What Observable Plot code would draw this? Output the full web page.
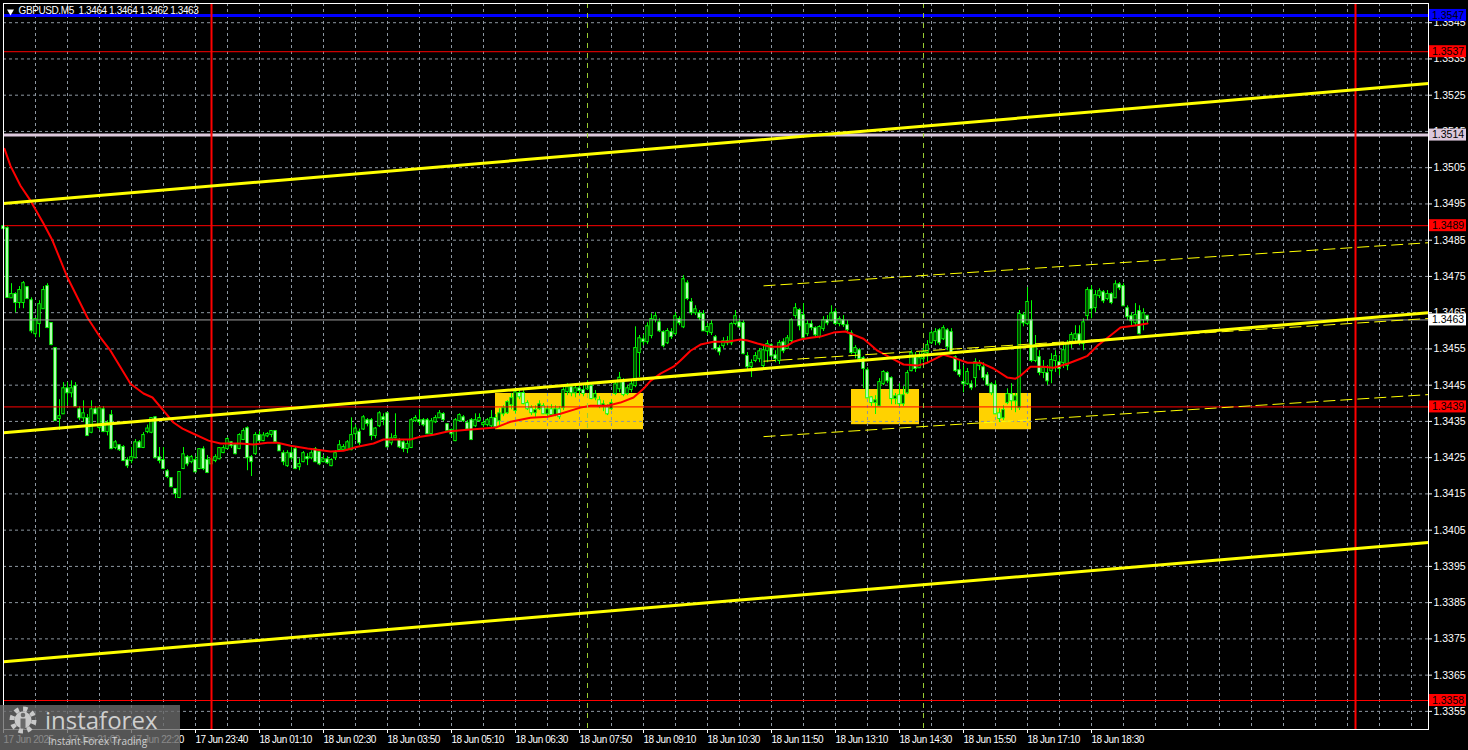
<!DOCTYPE html>
<html><head><meta charset="utf-8">
<script src="https://cdn.jsdelivr.net/npm/d3@7"></script>
<script src="https://cdn.jsdelivr.net/npm/@observablehq/plot@0.6"></script>
<style>html,body{margin:0;padding:0;background:#000;overflow:hidden}</style>
</head><body><div id="chart"></div>
<script>
// ---- candle data (GBPUSD M5), bar index 0..286 ----
const open = [
1.34887,1.34882,1.34691,1.34700,1.34678,1.34678,1.34719,1.34683,1.34592,1.34620,
1.34661,1.34722,1.34620,1.34551,1.34358,1.34371,1.34440,1.34429,1.34446,1.34382,
1.34360,1.34358,1.34320,1.34382,1.34333,1.34382,1.34322,1.34366,1.34278,1.34283,
1.34278,1.34242,1.34242,1.34250,1.34291,1.34278,1.34322,1.34320,1.34360,1.34250,
1.34242,1.34211,1.34192,1.34162,1.34140,1.34220,1.34250,1.34239,1.34242,1.34220,
1.34272,1.34242,1.34233,1.34242,1.34247,1.34264,1.34275,1.34291,1.34283,1.34275,
1.34300,1.34330,1.34250,1.34261,1.34311,1.34297,1.34310,1.34314,1.34322,1.34283,
1.34261,1.34228,1.34261,1.34272,1.34225,1.34239,1.34250,1.34250,1.34272,1.34264,
1.34239,1.34244,1.34228,1.34250,1.34272,1.34272,1.34272,1.34272,1.34316,1.34320,
1.34329,1.34352,1.34352,1.34311,1.34338,1.34360,1.34371,1.34291,1.34305,1.34297,
1.34291,1.34275,1.34278,1.34352,1.34352,1.34352,1.34352,1.34316,1.34349,1.34360,
1.34369,1.34341,1.34325,1.34297,1.34352,1.34360,1.34344,1.34352,1.34338,1.34352,
1.34341,1.34341,1.34338,1.34358,1.34352,1.34371,1.34374,1.34396,1.34380,1.34427,
1.34427,1.34399,1.34385,1.34374,1.34385,1.34391,1.34371,1.34382,1.34369,1.34382,
1.34388,1.34432,1.34443,1.34429,1.34440,1.34435,1.34440,1.34446,1.34415,1.34407,
1.34391,1.34388,1.34385,1.34427,1.34440,1.34457,1.34427,1.34438,1.34449,1.34540,
1.34575,1.34570,1.34587,1.34631,1.34622,1.34595,1.34567,1.34595,1.34592,1.34631,
1.34611,1.34730,1.34678,1.34650,1.34647,1.34645,1.34598,1.34595,1.34581,1.34551,
1.34559,1.34570,1.34567,1.34620,1.34622,1.34620,1.34529,1.34501,1.34518,1.34523,
1.34504,1.34545,1.34559,1.34531,1.34518,1.34567,1.34551,1.34573,1.34642,1.34656,
1.34642,1.34592,1.34617,1.34606,1.34584,1.34606,1.34628,1.34628,1.34650,1.34620,
1.34628,1.34614,1.34592,1.34540,1.34545,1.34523,1.34490,1.34415,1.34402,1.34393,
1.34454,1.34482,1.34468,1.34413,1.34421,1.34399,1.34429,1.34490,1.34526,1.34498,
1.34523,1.34540,1.34567,1.34573,1.34600,1.34578,1.34600,1.34595,1.34526,1.34490,
1.34457,1.34454,1.34451,1.34471,1.34504,1.34498,1.34476,1.34451,1.34449,1.34371,
1.34360,1.34402,1.34424,1.34407,1.34388,1.34642,1.34620,1.34628,1.34518,1.34526,
1.34485,1.34482,1.34490,1.34518,1.34512,1.34512,1.34504,1.34565,1.34578,1.34589,
1.34565,1.34642,1.34711,1.34664,1.34697,1.34705,1.34689,1.34700,1.34691,1.34727,
1.34722,1.34661,1.34639,1.34622,1.34653,1.34631,1.34640];
const high = [
1.34912,1.34887,1.34730,1.34705,1.34722,1.34736,1.34722,1.34691,1.34633,1.34683,
1.34722,1.34730,1.34622,1.34551,1.34410,1.34457,1.34457,1.34462,1.34457,1.34391,
1.34407,1.34369,1.34407,1.34391,1.34391,1.34391,1.34352,1.34380,1.34297,1.34286,
1.34283,1.34250,1.34278,1.34300,1.34297,1.34319,1.34340,1.34360,1.34363,1.34278,
1.34278,1.34217,1.34195,1.34164,1.34211,1.34278,1.34256,1.34256,1.34253,1.34275,
1.34280,1.34256,1.34250,1.34258,1.34278,1.34283,1.34305,1.34294,1.34289,1.34316,
1.34330,1.34335,1.34256,1.34319,1.34322,1.34319,1.34319,1.34325,1.34325,1.34286,
1.34269,1.34269,1.34278,1.34278,1.34247,1.34267,1.34261,1.34269,1.34278,1.34272,
1.34256,1.34253,1.34247,1.34269,1.34297,1.34286,1.34297,1.34360,1.34340,1.34329,
1.34366,1.34358,1.34358,1.34333,1.34377,1.34371,1.34374,1.34316,1.34371,1.34302,
1.34297,1.34297,1.34358,1.34366,1.34382,1.34358,1.34358,1.34358,1.34366,1.34380,
1.34374,1.34344,1.34329,1.34358,1.34371,1.34366,1.34352,1.34358,1.34371,1.34371,
1.34352,1.34358,1.34380,1.34369,1.34385,1.34393,1.34407,1.34427,1.34440,1.34435,
1.34435,1.34407,1.34393,1.34393,1.34407,1.34399,1.34391,1.34396,1.34393,1.34391,
1.34443,1.34454,1.34449,1.34449,1.34451,1.34449,1.34462,1.34454,1.34435,1.34418,
1.34407,1.34396,1.34410,1.34462,1.34485,1.34468,1.34449,1.34460,1.34611,1.34587,
1.34589,1.34622,1.34647,1.34650,1.34633,1.34600,1.34606,1.34606,1.34650,1.34639,
1.34752,1.34738,1.34689,1.34669,1.34656,1.34656,1.34620,1.34628,1.34587,1.34559,
1.34581,1.34584,1.34622,1.34656,1.34633,1.34628,1.34540,1.34520,1.34540,1.34551,
1.34559,1.34573,1.34564,1.34545,1.34573,1.34578,1.34587,1.34633,1.34675,1.34661,
1.34675,1.34628,1.34628,1.34611,1.34614,1.34639,1.34642,1.34669,1.34661,1.34639,
1.34642,1.34628,1.34600,1.34559,1.34551,1.34529,1.34498,1.34418,1.34421,1.34468,
1.34490,1.34487,1.34473,1.34427,1.34454,1.34446,1.34490,1.34545,1.34540,1.34540,
1.34559,1.34573,1.34600,1.34606,1.34606,1.34614,1.34606,1.34606,1.34531,1.34518,
1.34504,1.34496,1.34462,1.34523,1.34518,1.34512,1.34485,1.34457,1.34462,1.34385,
1.34393,1.34440,1.34454,1.34427,1.34656,1.34650,1.34719,1.34683,1.34587,1.34545,
1.34518,1.34504,1.34537,1.34545,1.34531,1.34559,1.34573,1.34595,1.34614,1.34614,
1.34633,1.34719,1.34724,1.34711,1.34716,1.34711,1.34711,1.34705,1.34738,1.34733,
1.34730,1.34669,1.34650,1.34675,1.34669,1.34661,1.34640];
const low = [
1.34871,1.34692,1.34689,1.34650,1.34661,1.34661,1.34686,1.34592,1.34581,1.34581,
1.34661,1.34606,1.34559,1.34350,1.34325,1.34369,1.34393,1.34415,1.34388,1.34352,
1.34347,1.34310,1.34316,1.34369,1.34325,1.34319,1.34310,1.34272,1.34272,1.34267,
1.34239,1.34220,1.34233,1.34247,1.34275,1.34275,1.34316,1.34316,1.34247,1.34233,
1.34217,1.34192,1.34167,1.34137,1.34137,1.34217,1.34225,1.34233,1.34209,1.34217,
1.34214,1.34206,1.34228,1.34236,1.34244,1.34261,1.34272,1.34275,1.34258,1.34272,
1.34297,1.34214,1.34198,1.34256,1.34294,1.34294,1.34305,1.34305,1.34291,1.34267,
1.34228,1.34223,1.34242,1.34217,1.34214,1.34236,1.34228,1.34244,1.34236,1.34228,
1.34236,1.34231,1.34225,1.34242,1.34269,1.34267,1.34269,1.34269,1.34297,1.34283,
1.34325,1.34335,1.34297,1.34302,1.34333,1.34338,1.34278,1.34283,1.34302,1.34275,
1.34264,1.34261,1.34275,1.34347,1.34338,1.34335,1.34314,1.34311,1.34344,1.34358,
1.34349,1.34319,1.34305,1.34294,1.34349,1.34347,1.34325,1.34297,1.34333,1.34347,
1.34333,1.34335,1.34333,1.34330,1.34335,1.34363,1.34369,1.34382,1.34371,1.34410,
1.34396,1.34380,1.34366,1.34360,1.34380,1.34369,1.34360,1.34363,1.34363,1.34355,
1.34380,1.34421,1.34418,1.34415,1.34421,1.34418,1.34435,1.34410,1.34407,1.34385,
1.34377,1.34366,1.34380,1.34421,1.34429,1.34418,1.34421,1.34429,1.34443,1.34471,
1.34559,1.34562,1.34578,1.34622,1.34595,1.34553,1.34562,1.34576,1.34587,1.34614,
1.34606,1.34683,1.34642,1.34642,1.34628,1.34598,1.34587,1.34587,1.34545,1.34531,
1.34551,1.34559,1.34559,1.34614,1.34606,1.34534,1.34493,1.34471,1.34512,1.34512,
1.34496,1.34512,1.34526,1.34512,1.34507,1.34537,1.34548,1.34565,1.34633,1.34600,
1.34578,1.34584,1.34600,1.34581,1.34578,1.34598,1.34614,1.34625,1.34614,1.34611,
1.34609,1.34592,1.34534,1.34523,1.34512,1.34440,1.34413,1.34391,1.34369,1.34391,
1.34449,1.34454,1.34396,1.34396,1.34391,1.34391,1.34424,1.34487,1.34485,1.34496,
1.34512,1.34512,1.34562,1.34559,1.34559,1.34573,1.34545,1.34537,1.34485,1.34471,
1.34429,1.34449,1.34435,1.34443,1.34490,1.34462,1.34446,1.34421,1.34369,1.34347,
1.34352,1.34396,1.34380,1.34374,1.34380,1.34611,1.34614,1.34512,1.34512,1.34476,
1.34468,1.34449,1.34454,1.34485,1.34476,1.34496,1.34490,1.34551,1.34567,1.34559,
1.34545,1.34628,1.34633,1.34650,1.34689,1.34675,1.34683,1.34672,1.34689,1.34711,
1.34667,1.34628,1.34611,1.34614,1.34589,1.34600,1.34620];
const close = [
1.34882,1.34692,1.34700,1.34678,1.34711,1.34730,1.34689,1.34600,1.34631,1.34672,
1.34711,1.34609,1.34562,1.34352,1.34363,1.34440,1.34429,1.34440,1.34391,1.34360,
1.34371,1.34311,1.34382,1.34371,1.34385,1.34322,1.34344,1.34275,1.34291,1.34272,
1.34242,1.34228,1.34250,1.34291,1.34278,1.34311,1.34329,1.34358,1.34250,1.34242,
1.34220,1.34198,1.34170,1.34151,1.34209,1.34258,1.34233,1.34250,1.34211,1.34272,
1.34220,1.34209,1.34244,1.34250,1.34275,1.34275,1.34300,1.34283,1.34261,1.34311,
1.34322,1.34250,1.34239,1.34311,1.34297,1.34310,1.34314,1.34322,1.34294,1.34269,
1.34239,1.34261,1.34250,1.34220,1.34231,1.34261,1.34247,1.34261,1.34239,1.34233,
1.34244,1.34236,1.34242,1.34261,1.34283,1.34278,1.34291,1.34311,1.34329,1.34291,
1.34360,1.34344,1.34311,1.34329,1.34371,1.34355,1.34280,1.34302,1.34308,1.34280,
1.34275,1.34286,1.34352,1.34358,1.34349,1.34341,1.34316,1.34349,1.34358,1.34371,
1.34355,1.34325,1.34316,1.34352,1.34366,1.34352,1.34329,1.34300,1.34352,1.34358,
1.34344,1.34352,1.34358,1.34335,1.34371,1.34385,1.34402,1.34413,1.34429,1.34418,
1.34399,1.34385,1.34374,1.34380,1.34396,1.34371,1.34382,1.34369,1.34382,1.34363,
1.34435,1.34443,1.34429,1.34440,1.34435,1.34427,1.34451,1.34413,1.34424,1.34391,
1.34396,1.34371,1.34399,1.34451,1.34469,1.34424,1.34440,1.34451,1.34551,1.34578,
1.34570,1.34611,1.34631,1.34639,1.34600,1.34559,1.34598,1.34584,1.34639,1.34622,
1.34741,1.34689,1.34650,1.34658,1.34636,1.34600,1.34609,1.34617,1.34551,1.34542,
1.34570,1.34567,1.34617,1.34639,1.34611,1.34537,1.34501,1.34510,1.34529,1.34542,
1.34545,1.34562,1.34531,1.34523,1.34565,1.34545,1.34578,1.34628,1.34661,1.34614,
1.34581,1.34617,1.34609,1.34589,1.34609,1.34628,1.34622,1.34647,1.34620,1.34631,
1.34617,1.34603,1.34540,1.34551,1.34523,1.34496,1.34415,1.34402,1.34407,1.34457,
1.34485,1.34462,1.34413,1.34418,1.34399,1.34421,1.34482,1.34537,1.34496,1.34523,
1.34540,1.34559,1.34592,1.34595,1.34567,1.34606,1.34556,1.34540,1.34490,1.34479,
1.34454,1.34485,1.34443,1.34512,1.34509,1.34471,1.34451,1.34429,1.34371,1.34358,
1.34380,1.34424,1.34407,1.34418,1.34645,1.34622,1.34678,1.34518,1.34559,1.34485,
1.34496,1.34462,1.34518,1.34529,1.34496,1.34545,1.34562,1.34587,1.34589,1.34567,
1.34622,1.34711,1.34661,1.34697,1.34708,1.34683,1.34700,1.34678,1.34727,1.34719,
1.34669,1.34639,1.34628,1.34642,1.34592,1.34647,1.34630];

// ---- moving average (red line), read at sample bars ----
const maIndex = [0.25,1.75,4.25,6.75,10,12.25,16,21,24.25,26.75,31.75,35,37.25,40,42.5,44.75,47.5,51.25,54.25,59.25,62.5,66,68.5,71.75,76,81.75,85,88.5,92.5,95,99.25,101.75,104.25,107.5,111,116,119.25,123,126.75,131.75,136,139.25,144.25,146.75,151,154.25,157.5,160,161.75,164.25,167.5,169.25,171.75,174.25,177.5,181,184.25,186,188.5,191.75,194.25,196,197.5,199.25,201.75,204.25,207.5,210.5,212.5,215,218.5,221.75,225,228.5,231,235,237.5,241,244.25,247.5,251,253,254.25,256.75,260,262.5,266,269.25,271,273.5,276.75,279.25,282.5,286];
const maValue = [1.35102,1.35055,1.35000,1.34959,1.34896,1.34849,1.34747,1.34636,1.34581,1.34545,1.34454,1.34427,1.34416,1.34380,1.34347,1.34330,1.34316,1.34297,1.34289,1.34289,1.34286,1.34291,1.34291,1.34283,1.34275,1.34267,1.34269,1.34280,1.34289,1.34300,1.34300,1.34300,1.34308,1.34313,1.34322,1.34327,1.34330,1.34333,1.34349,1.34360,1.34363,1.34371,1.34388,1.34393,1.34393,1.34402,1.34416,1.34440,1.34462,1.34482,1.34501,1.34518,1.34545,1.34562,1.34570,1.34570,1.34576,1.34573,1.34565,1.34556,1.34556,1.34559,1.34570,1.34576,1.34581,1.34584,1.34595,1.34598,1.34589,1.34578,1.34545,1.34526,1.34507,1.34504,1.34512,1.34534,1.34526,1.34512,1.34512,1.34496,1.34471,1.34468,1.34476,1.34501,1.34501,1.34498,1.34509,1.34523,1.34531,1.34559,1.34587,1.34609,1.34614,1.34620];

// ---- horizontal levels ----
const levelPrice = [1.3547, 1.3537, 1.3514, 1.3489, 1.3463, 1.3439, 1.3358];
const levelColor = ["#0000ff", "#ff0000", "#dcc8dc", "#ff0000", "#a0a0a0", "#ff0000", "#ff0000"];
const levelWidth = [3, 1, 3, 1, 1, 1, 1];
const levelBox   = ["#0000ff", "#ff0000", "#dcc8dc", "#ff0000", "#ffffff", "#ff0000", "#ff0000"];

// ---- trend / channel lines (bar index, price) ----
const trendX1 = [0, 0, 0, 190, 190, 190];
const trendY1 = [1.34951, 1.34319, 1.33687, 1.34724, 1.34516, 1.34308];
const trendX2 = [356.25, 356.25, 356.25, 356.25, 356.25, 356.25];
const trendY2 = [1.35282, 1.34650, 1.34016, 1.34843, 1.34634, 1.34424];
const trendDashed = [false, false, false, true, true, true];

// ---- highlighted zones ----
const zoneStart = [123, 212, 244];
const zoneEnd   = [160, 229, 257];
const zoneHigh  = [1.34427, 1.34438, 1.34427];
const zoneLow   = [1.34327, 1.34341, 1.34327];

// ---- vertical markers ----
const dayLines = [52, 338];
const sessionLines = [146, 230];

// ---- axes ----
const priceTicks = [1.3355,1.3365,1.3375,1.3385,1.3395,1.3405,1.3415,1.3425,1.3435,1.3445,1.3455,1.3465,1.3475,1.3485,1.3495,1.3505,1.3515,1.3525,1.3535,1.3545];
const timeIdx = [0,16,32,48,64,80,96,112,128,144,160,176,192,208,224,240,256,272];
const timeLabels = ["17 Jun 2025","17 Jun 21:00","17 Jun 22:20","17 Jun 23:40","18 Jun 01:10","18 Jun 02:30","18 Jun 03:50","18 Jun 05:10","18 Jun 06:30","18 Jun 07:50","18 Jun 09:10","18 Jun 10:30","18 Jun 11:50","18 Jun 13:10","18 Jun 14:30","18 Jun 15:50","18 Jun 17:10","18 Jun 18:30"];
const gridIdx = [8,16,24,32,40,48,56,64,72,80,88,96,104,112,120,128,136,144,152,160,168,176,184,192,200,208,216,224,232,240,248,256,264,272,280,288,296,304,312,320,328,336,344,352];
const header = "GBPUSD.M5\u00a0\u00a01.3464 1.3464 1.3462 1.3463";

// ---- build tables ----
const bars = close.map((c, i) => ({i, o: open[i], h: high[i], l: low[i], c}));
const bull = bars.filter(d => d.c >= d.o);
const bear = bars.filter(d => d.c < d.o);
const ma = maIndex.map((i, k) => ({i, v: maValue[k]}));
const trends = trendX1.map((x1, k) => ({x1, y1: trendY1[k], x2: trendX2[k], y2: trendY2[k], dashed: trendDashed[k]}));
const zones = zoneStart.map((s, k) => ({x1: s, x2: zoneEnd[k], y1: zoneLow[k], y2: zoneHigh[k]}));
const labelMap = new Map(timeIdx.map((t, k) => [t, timeLabels[k]]));
const gridColor = "#8d97a1";

const chart = Plot.plot({
  width: 1468, height: 750,
  marginTop: 3, marginLeft: 3, marginRight: 40, marginBottom: 21,
  x: {domain: [0, 356.25], label: null},
  y: {domain: [1.3350, 1.35503], label: null},
  style: {background: "#000", color: "#fff", fontFamily: "'Liberation Sans', Arial, sans-serif", fontSize: "11px", overflow: "visible"},
  marks: [
    Plot.rect(zones, {x1: "x1", x2: "x2", y1: "y1", y2: "y2", fill: "#ffd200"}),
    Plot.ruleX(gridIdx, {stroke: gridColor, strokeDasharray: "3,3"}),
    Plot.ruleY(priceTicks, {stroke: gridColor, strokeDasharray: "3,3"}),
    Plot.ruleX(bars, {x: "i", y1: "l", y2: "h", stroke: "#00ff00"}),
    Plot.rect(bull, {x1: d => d.i - 0.3, x2: d => d.i + 0.3, y1: "o", y2: "c", fill: "#000", stroke: "#00ff00", insetTop: -0.5, insetBottom: -0.5}),
    Plot.rect(bear, {x1: d => d.i - 0.3, x2: d => d.i + 0.3, y1: "o", y2: "c", fill: "#fff", stroke: "#00ff00", insetTop: -0.5, insetBottom: -0.5}),
    Plot.line(ma, {x: "i", y: "v", stroke: "#ff0000", strokeWidth: 2}),
    ...levelPrice.map((v, k) => Plot.ruleY([v], {stroke: levelColor[k], strokeWidth: levelWidth[k]})),
    Plot.ruleX(dayLines, {stroke: "#ff0000", strokeWidth: 2}),
    Plot.ruleX(sessionLines, {stroke: "#9acd32", strokeDasharray: "5,5"}),
    Plot.link(trends.filter(d => !d.dashed), {x1: "x1", y1: "y1", x2: "x2", y2: "y2", stroke: "#ffff00", strokeWidth: 3}),
    Plot.link(trends.filter(d => d.dashed), {x1: "x1", y1: "y1", x2: "x2", y2: "y2", stroke: "#ffff00", strokeWidth: 1, strokeDasharray: "12,5"}),
    Plot.frame({stroke: "#fff"}),
    Plot.axisY({anchor: "right", ticks: priceTicks, tickFormat: d => d.toFixed(4), tickSize: 3, tickPadding: 2, fontSize: 10.5}),
    Plot.axisX({anchor: "bottom", ticks: timeIdx, tickFormat: d => labelMap.get(d), textAnchor: "start", tickSize: 4, tickPadding: 2, fontSize: 10}),
    Plot.dot([0], {frameAnchor: "top-left", dx: 7, dy: 8, symbol: "triangle", rotate: 180, r: 2.6, fill: "#fff"}),
    Plot.text([header], {frameAnchor: "top-left", dx: 15, dy: 3, textAnchor: "start", lineAnchor: "top", fill: "#fff", fontSize: 10})
  ]
});

const svg = d3.select(chart);
// condensed look of the terminal font
const labelSet = new Set(timeLabels);
svg.selectAll("text").each(function() {
  const t = this.textContent;
  if (labelSet.has(t)) d3.select(this).style("letter-spacing", "-0.45px");
  if (t === header) d3.select(this).style("letter-spacing", "-0.4px");
});

// price tags on the right axis, placed through the plot's scales
const sx = chart.scale("x"), sy = chart.scale("y");
const tagX = sx.apply(356.25) + 1;
const tags = svg.append("g").attr("text-anchor", "start");
levelPrice.forEach((v, k) => {
  const y = sy.apply(v);
  tags.append("rect").attr("x", tagX).attr("y", y - 6).attr("width", 37).attr("height", 12).attr("fill", levelBox[k]);
  tags.append("text").attr("x", tagX + 3).attr("y", y).attr("dy", "0.35em").attr("text-anchor", "start")
    .attr("fill", "#000").attr("font-size", 10.5).text(v.toFixed(4));
});

// watermark logo
const logo = svg.append("g").attr("text-anchor", "start");
logo.append("rect").attr("x", 0).attr("y", 705).attr("width", 180).attr("height", 45).attr("fill", "#6a6a6a").attr("fill-opacity", 0.8);
logo.append("circle").attr("cx", 23).attr("cy", 720).attr("r", 11).attr("fill", "none").attr("stroke", "#c9c9c9").attr("stroke-width", 5).attr("stroke-dasharray", "4.3 4.3");
logo.append("circle").attr("cx", 23).attr("cy", 720).attr("r", 8.5).attr("fill", "#c9c9c9");
logo.append("circle").attr("cx", 23).attr("cy", 715).attr("r", 2.3).attr("fill", "#6a6a6a");
logo.append("rect").attr("x", 20.5).attr("y", 718.5).attr("width", 5).attr("height", 10).attr("fill", "#6a6a6a");
logo.append("text").attr("x", 45).attr("y", 729).attr("text-anchor", "start").attr("fill", "#cfcfcf").attr("font-family", "'Open Sans', sans-serif").attr("font-size", 24).text("instaforex");
logo.append("text").attr("x", 48).attr("y", 745).attr("text-anchor", "start").attr("fill", "#cfcfcf").attr("font-family", "'Open Sans', sans-serif").attr("font-size", 10).text("Instant Forex Trading");

document.getElementById("chart").appendChild(chart);
</script></body></html>
